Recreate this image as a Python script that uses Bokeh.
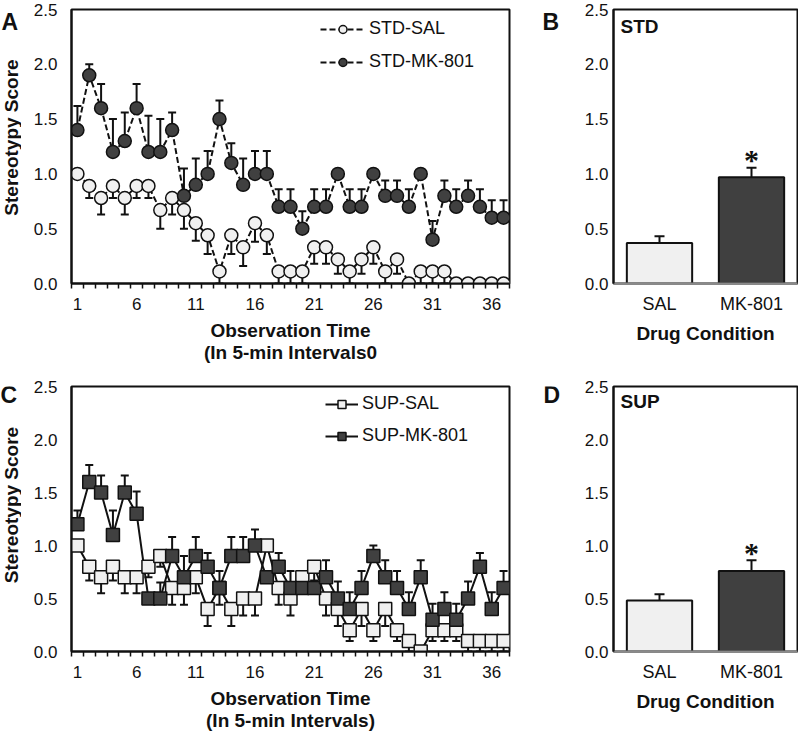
import math
from bokeh.plotting import figure
from bokeh.layouts import row, column
from bokeh.models import (ColumnDataSource, Whisker, TeeHead, FixedTicker,
                          PrintfTickFormatter, Legend, LegendItem, Label, FactorRange)
from bokeh.embed import file_html
from bokeh.resources import INLINE

# ---------------- data ----------------
intervals = list(range(1, 38))
x_tick_values = [1, 6, 11, 16, 21, 26, 31, 36]
y_tick_values = [0.0, 0.5, 1.0, 1.5, 2.0, 2.5]

std_sal = [1.0, 0.89, 0.78, 0.89, 0.78, 0.89, 0.89, 0.67, 0.78, 0.67,
           0.55, 0.44, 0.11, 0.44, 0.33, 0.55, 0.44, 0.11, 0.11, 0.11,
           0.33, 0.33, 0.22, 0.11, 0.22, 0.33, 0.11, 0.22, 0.0, 0.11,
           0.11, 0.11, 0.0, 0.0, 0.0, 0.0, 0.0]
std_sal_sem = [0, 0.11, 0.15, 0.11, 0.15, 0.11, 0.11, 0.17, 0.15, 0.17,
               0.16, 0.17, 0.11, 0.17, 0.17, 0.17, 0.17, 0.11, 0.11, 0.11,
               0.15, 0.15, 0.13, 0.11, 0.13, 0.15, 0.11, 0.13, 0, 0.11,
               0.11, 0.11, 0, 0, 0, 0, 0]
std_mk = [1.4, 1.9, 1.6, 1.2, 1.3, 1.6, 1.2, 1.2, 1.4, 0.8,
          0.9, 1.0, 1.5, 1.1, 0.9, 1.0, 1.0, 0.7, 0.7, 0.5,
          0.7, 0.7, 1.0, 0.7, 0.7, 1.0, 0.8, 0.8, 0.7, 1.0,
          0.4, 0.8, 0.7, 0.8, 0.7, 0.6, 0.6]
std_mk_sem = [0.22, 0.1, 0.22, 0.3, 0.26, 0.22, 0.33, 0.3, 0.16, 0.25,
              0.24, 0.21, 0.17, 0.18, 0.24, 0.21, 0.21, 0.16, 0.16, 0.16,
              0.16, 0.16, 0, 0.16, 0.16, 0, 0.14, 0.14, 0.16, 0,
              0.17, 0.14, 0.16, 0.14, 0.16, 0.16, 0.16]

sup_sal = [1.0, 0.8, 0.7, 0.8, 0.7, 0.7, 0.8, 0.9, 0.6, 0.6,
           0.7, 0.4, 0.6, 0.4, 0.5, 0.5, 1.0, 0.6, 0.5, 0.7,
           0.8, 0.5, 0.4, 0.2, 0.4, 0.2, 0.4, 0.2, 0.1, 0.0,
           0.2, 0.2, 0.2, 0.1, 0.1, 0.1, 0.1]
sup_sal_sem = [0, 0.13, 0.15, 0.13, 0.15, 0.15, 0.1, 0.1, 0.16, 0.16,
               0.15, 0.16, 0.16, 0.16, 0.16, 0.16, 0, 0.16, 0.16, 0.1,
               0.13, 0.16, 0.16, 0.1, 0.16, 0.1, 0.16, 0.1, 0.1, 0,
               0.1, 0.1, 0.1, 0.1, 0.1, 0.1, 0.1]
sup_mk = [1.2, 1.6, 1.5, 1.1, 1.5, 1.3, 0.5, 0.5, 0.9, 0.7,
          0.9, 0.8, 0.6, 0.9, 0.9, 1.0, 0.7, 0.8, 0.6, 0.6,
          0.6, 0.7, 0.5, 0.4, 0.6, 0.9, 0.7, 0.6, 0.4, 0.7,
          0.3, 0.4, 0.3, 0.5, 0.8, 0.4, 0.6]
sup_mk_sem = [0.13, 0.16, 0.16, 0.23, 0.16, 0.21, 0, 0.15, 0.18, 0.2,
              0.18, 0.13, 0.16, 0.18, 0.18, 0.15, 0, 0.13, 0.16, 0.06,
              0.06, 0.16, 0.16, 0.16, 0.16, 0.1, 0.16, 0.16, 0.16, 0.16,
              0.15, 0.16, 0.15, 0.16, 0.13, 0.16, 0.16]

conditions = ["SAL", "MK-801"]
std_bar = [0.37, 0.97]
std_bar_sem = [0.06, 0.085]
sup_bar = [0.48, 0.76]
sup_bar_sem = [0.06, 0.10]

# ---------------- style ----------------
FONT = "Liberation Sans"
LIGHT = "#f0f0f0"
DARK = "#404040"
INK = "#111111"
TICK_FS = "17px"
AXIS_FS = "19px"

ROW1_H, ROW2_H = 377, 356
TOP = 9
BOT1, BOT2 = 94, 78
FH1 = ROW1_H - TOP - BOT1
FH2 = ROW2_H - TOP - BOT2


def base_style(p, label_standoff):
    p.xgrid.visible = False
    p.ygrid.visible = False
    p.outline_line_color = INK
    p.outline_line_width = 2
    p.background_fill_color = "white"
    p.border_fill_color = "white"
    for ax in (p.xaxis[0], p.yaxis[0]):
        ax.major_label_text_font = FONT
        ax.major_label_text_font_size = TICK_FS
        ax.major_label_text_color = INK
        ax.axis_label_text_font = FONT
        ax.axis_label_text_font_size = AXIS_FS
        ax.axis_label_text_font_style = "bold"
        ax.axis_label_text_color = INK
        ax.axis_label_text_line_height = 1.05
        ax.axis_line_color = INK
        ax.axis_line_width = 2
        ax.major_tick_line_color = None
        ax.major_tick_out = 0
        ax.major_tick_in = 0
        ax.minor_tick_line_color = None
    p.yaxis[0].ticker = FixedTicker(ticks=y_tick_values)
    p.yaxis[0].formatter = PrintfTickFormatter(format="%.1f")
    p.yaxis[0].major_label_standoff = label_standoff


def err_source(xs, vals, errs, up):
    bx, lo, hi = [], [], []
    for x, v, e in zip(xs, vals, errs):
        if e > 0:
            bx.append(x)
            if up:
                lo.append(v)
                hi.append(v + e)
            else:
                lo.append(v - e)
                hi.append(v)
    return ColumnDataSource(dict(x=bx, lo=lo, hi=hi))


def side_panel(width, height, bottom, frame_h, letter, letter_x, ylabel=None, ylabel_dy=0):
    s = figure(width=width, height=height, x_range=(0, 1), y_range=(0, 1),
               x_axis_type=None, y_axis_type=None, output_backend="svg",
               toolbar_location=None, min_border_left=0, min_border_right=0,
               min_border_top=TOP, min_border_bottom=bottom)
    s.outline_line_color = None
    s.background_fill_color = "white"
    s.border_fill_color = "white"
    s.add_layout(Label(x=letter_x, y=frame_h + 1, x_units="screen", y_units="screen",
                       text=letter, text_font=FONT, text_font_size="23px",
                       text_font_style="bold", text_baseline="top", text_color=INK))
    if ylabel:
        s.add_layout(Label(x=width / 2, y=frame_h / 2 + ylabel_dy, x_units="screen",
                           y_units="screen", text=ylabel, angle=math.pi / 2,
                           text_font=FONT, text_font_size=AXIS_FS, text_font_style="bold",
                           text_align="center", text_baseline="middle", text_color=INK))
    return s


def time_panel(sal, sal_err, mk, mk_err, names, marker, dash, xlabel,
               height, bottom, frame_h, leg_x, leg_top, glyph_w, spacing):
    p = figure(width=509, height=height, x_range=(0.5, 37.5), y_range=(0, 2.5),
               output_backend="svg", toolbar_location=None,
               min_border_left=50, min_border_right=21, min_border_top=TOP,
               min_border_bottom=bottom)
    base_style(p, 14)
    xa = p.xaxis[0]
    boundaries = [i - 0.5 for i in intervals] + [intervals[-1] + 0.5]
    xa.ticker = FixedTicker(ticks=x_tick_values, minor_ticks=boundaries)
    xa.minor_tick_line_color = INK
    xa.minor_tick_line_width = 1.5
    xa.minor_tick_out = 5
    xa.minor_tick_in = 0
    xa.major_label_standoff = 9
    xa.axis_label = xlabel
    xa.axis_label_standoff = 7

    p.add_layout(Whisker(base="x", lower="lo", upper="hi",
                         source=err_source(intervals, sal, sal_err, False),
                         line_color=INK, line_width=2, upper_head=None,
                         lower_head=TeeHead(size=8, line_color=INK, line_width=2),
                         level="underlay"))
    p.add_layout(Whisker(base="x", lower="lo", upper="hi",
                         source=err_source(intervals, mk, mk_err, True),
                         line_color=INK, line_width=2, lower_head=None,
                         upper_head=TeeHead(size=8, line_color=INK, line_width=2),
                         level="underlay"))

    src_sal = ColumnDataSource(dict(x=intervals, y=sal))
    src_mk = ColumnDataSource(dict(x=intervals, y=mk))
    l1 = p.line("x", "y", source=src_sal, line_color=INK, line_width=2, line_dash=dash)
    l2 = p.line("x", "y", source=src_mk, line_color=INK, line_width=2, line_dash=dash)
    s1 = p.scatter("x", "y", source=src_sal, marker=marker, size=13,
                   fill_color=LIGHT, line_color=INK, line_width=1.5)
    s2 = p.scatter("x", "y", source=src_mk, marker=marker, size=13,
                   fill_color=DARK, line_color=INK, line_width=1.5)

    leg_h = 2 * 20 + spacing
    legend = Legend(items=[LegendItem(label=names[0], renderers=[l1, s1]),
                           LegendItem(label=names[1], renderers=[l2, s2])],
                    location=(leg_x, frame_h - leg_top - leg_h),
                    glyph_width=glyph_w, glyph_height=20, label_height=20,
                    label_standoff=4, spacing=spacing, padding=0, margin=0,
                    border_line_color=None, background_fill_alpha=0,
                    label_text_font=FONT, label_text_font_size="18px",
                    label_text_color=INK)
    p.add_layout(legend)
    return p


def bar_panel(vals, errs, tag, height, bottom, frame_h, tag_drop):
    p = figure(width=232, height=height, x_range=FactorRange(*conditions),
               y_range=(0, 2.5), output_backend="svg", toolbar_location=None,
               min_border_left=47, min_border_right=1, min_border_top=TOP,
               min_border_bottom=bottom)
    base_style(p, 5)
    xa = p.xaxis[0]
    xa.axis_line_color = "#8a8a8a"
    xa.major_label_standoff = 10
    xa.major_label_text_font_size = "18px"
    xa.axis_label = "Drug Condition"
    xa.axis_label_standoff = 6
    src = ColumnDataSource(dict(x=conditions, top=vals, fill=[LIGHT, DARK]))
    p.vbar(x="x", top="top", width=0.71, source=src, fill_color="fill",
           line_color=INK, line_width=2)
    p.add_layout(Whisker(base="x", lower="lo", upper="hi",
                         source=ColumnDataSource(dict(
                             x=conditions,
                             lo=[v - e for v, e in zip(vals, errs)],
                             hi=[v + e for v, e in zip(vals, errs)])),
                         line_color=INK, line_width=2,
                         upper_head=TeeHead(size=10, line_color=INK, line_width=2),
                         lower_head=TeeHead(size=10, line_color=INK, line_width=2)))
    p.text(x=[conditions[1]], y=[vals[1] + errs[1]], text=["*"],
           text_align="center", text_baseline="middle", y_offset=-8,
           text_font_size="30px", text_font_style="bold", text_color=INK,
           text_font=FONT)
    p.add_layout(Label(x=7, y=frame_h - tag_drop, x_units="screen", y_units="screen",
                       text=tag, text_font=FONT, text_font_size="19px",
                       text_font_style="bold", text_baseline="top", text_color=INK))
    return p


sA = side_panel(21, ROW1_H, BOT1, FH1, "A", 1, "Stereotypy Score", 9)
pA = time_panel(std_sal, std_sal_sem, std_mk, std_mk_sem, ["STD-SAL", "STD-MK-801"],
                "circle", "6 3", "Observation Time\n(In 5-min Intervals0",
                ROW1_H, BOT1, FH1, leg_x=249, leg_top=11, glyph_w=45, spacing=12)
sB = side_panel(36, ROW1_H, BOT1, FH1, "B", 12)
pB = bar_panel(std_bar, std_bar_sem, "STD", ROW1_H, BOT1, FH1, 6)

sC = side_panel(21, ROW2_H, BOT2, FH2, "C", 0, "Stereotypy Score", 12)
pC = time_panel(sup_sal, sup_sal_sem, sup_mk, sup_mk_sem, ["SUP-SAL", "SUP-MK-801"],
                "square", "solid", "Observation Time\n(In 5-min Intervals)",
                ROW2_H, BOT2, FH2, leg_x=254, leg_top=13, glyph_w=33, spacing=11)
sD = side_panel(36, ROW2_H, BOT2, FH2, "D", 13)
pD = bar_panel(sup_bar, sup_bar_sem, "SUP", ROW2_H, BOT2, FH2, 8)

layout = column(row(sA, pA, sB, pB), row(sC, pC, sD, pD))
open("out.html", "w").write(file_html(layout, INLINE))
